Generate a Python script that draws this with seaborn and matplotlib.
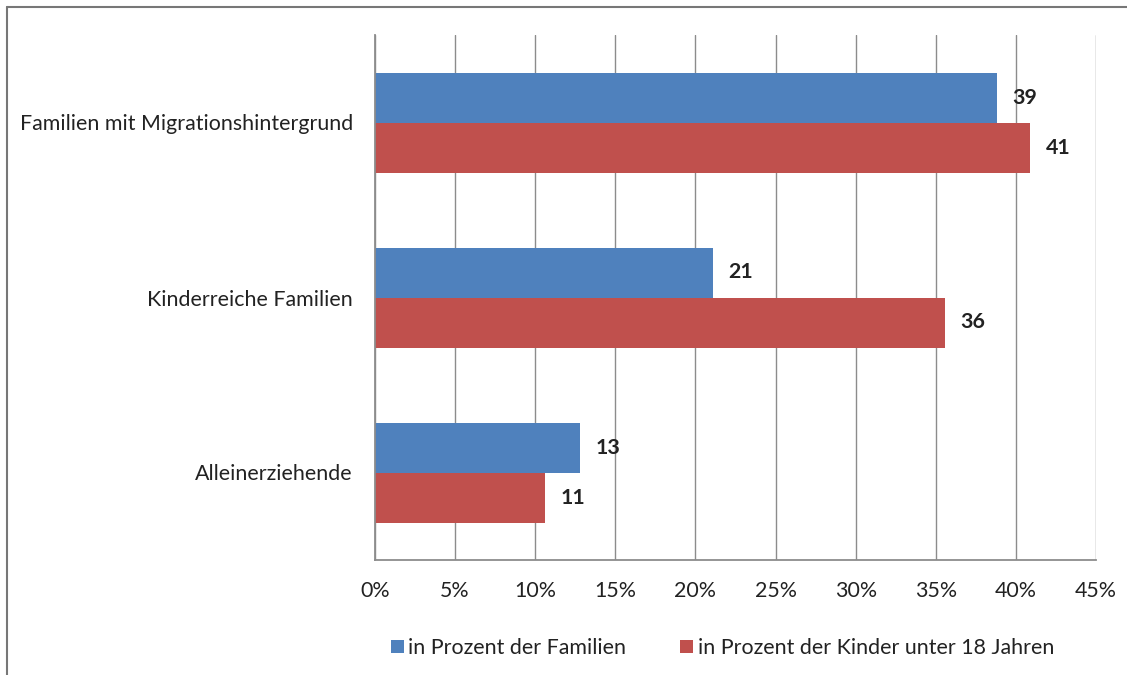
import matplotlib
matplotlib.use("Agg")
import matplotlib.pyplot as plt
import seaborn as sns
import pandas as pd
import numpy as np
from matplotlib.lines import Line2D
from matplotlib.ticker import FixedLocator, FuncFormatter

categories = ["Familien mit Migrationshintergrund", "Kinderreiche Familien", "Alleinerziehende"]
series_names = ["in Prozent der Familien", "in Prozent der Kinder unter 18 Jahren"]
familien = [38.8, 21.1, 12.8]
kinder = [40.9, 35.6, 10.6]
labels_familien = ["39", "21", "13"]
labels_kinder = ["41", "36", "11"]
xticks = [0, 5, 10, 15, 20, 25, 30, 35, 40, 45]

df = pd.DataFrame({
    "Kategorie": categories * 2,
    "Serie": [series_names[0]] * 3 + [series_names[1]] * 3,
    "Wert": familien + kinder,
})

sns.set_style("white")
plt.rcParams["font.family"] = ["Lato", "DejaVu Sans"]

FS = 15.4
W, H = 1127, 675
fig = plt.figure(figsize=(W / 100, H / 100), dpi=100)
ax = fig.add_axes([375 / W, 1 - 560 / H, (1096 - 375) / W, (560 - 35) / H])

colors = ["#4F81BD", "#C0504D"]
sns.barplot(data=df, y="Kategorie", x="Wert", hue="Serie", orient="h",
            palette=colors, width=100 / 175, ax=ax, legend=True,
            linewidth=0, saturation=1)

ax.set_xlim(0, 45)
ax.set_ylim(2.5, -0.5)
ax.xaxis.set_major_locator(FixedLocator(xticks))
ax.xaxis.set_major_formatter(FuncFormatter(lambda v, p: f"{int(v)}%"))
ax.set_xlabel("")
ax.set_ylabel("")

grid_c = "#8C8C8C"
ax.grid(axis="x", color=grid_c, linewidth=1)
ax.set_axisbelow(True)
for s in ["top", "right"]:
    ax.spines[s].set_visible(False)
for s in ["left", "bottom"]:
    ax.spines[s].set_color(grid_c)
    ax.spines[s].set_linewidth(1.3)

ax.tick_params(axis="x", which="major", length=5, color=grid_c, width=1,
               labelsize=FS, pad=10, labelcolor="#222222")
ax.tick_params(axis="y", which="major", length=0, labelsize=FS, pad=16,
               labelcolor="#222222")
ax.yaxis.set_minor_locator(FixedLocator([-0.5, 0.5, 1.5, 2.5]))
ax.tick_params(axis="y", which="minor", length=5, color=grid_c, width=1)

all_labels = [labels_familien, labels_kinder]
for cont, labs in zip(ax.containers, all_labels):
    ax.bar_label(cont, labels=labs, padding=11, fontweight="bold",
                 fontsize=FS, color="#222222")

leg = ax.get_legend()
handles = leg.legend_handles
leg.remove()
fig.legend(handles, series_names, loc="center", bbox_to_anchor=(0.641, 1 - 648 / H),
           ncol=2, frameon=False, fontsize=FS, handlelength=0.6, handleheight=0.6,
           handletextpad=0.2, columnspacing=2.55, labelcolor="#222222")

fig.add_artist(Line2D([7 / W, 7 / W], [0, 1 - 7 / H], color="#777777", linewidth=1.5))
fig.add_artist(Line2D([7 / W, 1], [1 - 7 / H, 1 - 7 / H], color="#777777", linewidth=1.5))

fig.savefig("out.png", dpi=100)
